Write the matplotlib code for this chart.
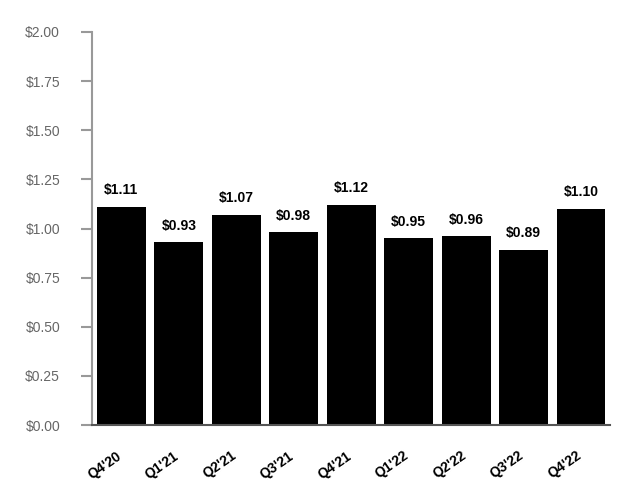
import numpy as np
import matplotlib.pyplot as plt
import matplotlib.transforms as mtransforms

quarters = ["Q4'20", "Q1'21", "Q2'21", "Q3'21", "Q4'21", "Q1'22", "Q2'22", "Q3'22", "Q4'22"]
values = [1.11, 0.93, 1.07, 0.98, 1.12, 0.95, 0.96, 0.89, 1.10]
y_ticks = [0.0, 0.25, 0.5, 0.75, 1.0, 1.25, 1.5, 1.75, 2.0]

plt.rcParams['font.family'] = ['Liberation Sans', 'DejaVu Sans']

fig = plt.figure(figsize=(6.4, 5), dpi=100, facecolor='w')
ax = fig.add_axes([0.1438, 0.15, 0.809, 0.786])

x = np.arange(len(quarters))
ax.bar(x, values, width=0.85, color='black', zorder=2)

# Etiquetas de valor sobre cada barra
for xi, v in zip(x, values):
    ax.annotate(f"${v:.2f}", (xi, v), xytext=(0, 7), textcoords='offset points',
                ha='center', va='bottom', fontsize=10, fontweight='bold', color='black')

ax.set_xlim(-0.51, 8.5)
ax.set_ylim(0, 2.0)
ax.set_yticks(y_ticks)
ax.set_yticklabels([f"${t:.2f}" for t in y_ticks])
ax.set_xticks(x)
ax.set_xticklabels(quarters, rotation=35, ha='right', rotation_mode='anchor',
                   fontsize=10, fontweight='bold')

ax.tick_params(axis='y', direction='out', length=8, width=1.5, color='#999999',
               labelcolor='#666666', labelsize=10, pad=15)
ax.tick_params(axis='x', length=0, pad=17)

# Desplazar etiquetas del eje x un poco a la izquierda
offset = mtransforms.ScaledTranslation(-4 / 72, 0, fig.dpi_scale_trans)
for lbl in ax.get_xticklabels():
    lbl.set_transform(lbl.get_transform() + offset)

for s in ['top', 'right']:
    ax.spines[s].set_visible(False)
ax.spines['left'].set_color('#999999')
ax.spines['left'].set_linewidth(1.5)
ax.spines['bottom'].set_color('#555555')
ax.spines['bottom'].set_linewidth(1.5)

fig.savefig("out.png", dpi=100, facecolor='w')
plt.close(fig)
